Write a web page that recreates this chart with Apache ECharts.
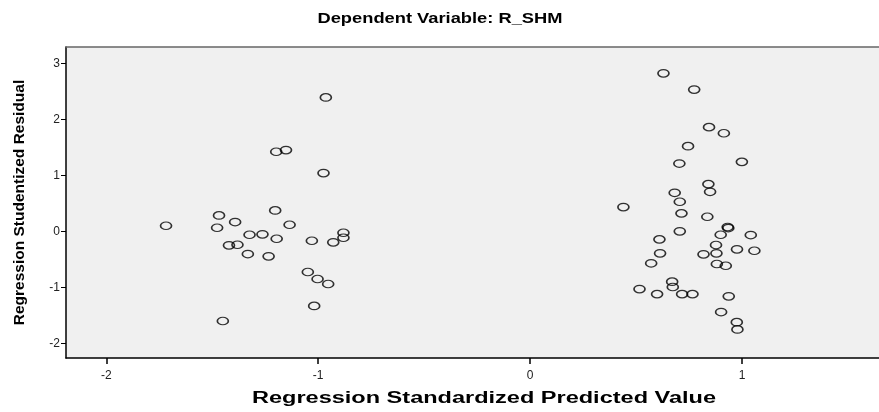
<!DOCTYPE html>
<html>
<head>
<meta charset="utf-8">
<script src="https://cdn.jsdelivr.net/npm/echarts@6/dist/echarts.min.js"></script>
<style>
html,body{margin:0;padding:0;background:#fff;overflow:hidden;}
#chart{width:879px;height:412px;}
</style>
</head>
<body>
<div id="chart"></div>
<script>
// Regression Standardized Predicted Value (x) and Regression Studentized Residual (y)
const predicted = [
  -0.964, -1.198, -1.152, -0.975, -1.203, -1.718, -1.468, -1.477, -1.392, -1.135,
  -1.324, -1.263, -1.196, -1.421, -1.381, -1.332, -1.234, -1.030, -0.929, -0.881,
  -0.881, -1.049, -1.003, -0.953, -1.019, -1.450,
  0.629, 0.774, 0.844, 0.914, 0.745, 0.999, 0.704, 0.841, 0.849, 0.682,
  0.706, 0.440, 0.714, 0.836, 0.932, 0.935, 0.706, 0.899, 1.041, 0.610,
  0.877, 0.976, 1.058, 0.613, 0.879, 0.818, 0.571, 0.881, 0.923, 0.670,
  0.673, 0.516, 0.599, 0.717, 0.766, 0.937, 0.901, 0.975, 0.978
];
const residual = [
  2.39, 1.42, 1.45, 1.04, 0.374, 0.10, 0.285, 0.064, 0.166, 0.118,
  -0.061, -0.053, -0.132, -0.250, -0.239, -0.405, -0.446, -0.168, -0.196, -0.025,
  -0.114, -0.725, -0.850, -0.939, -1.33, -1.60,
  2.82, 2.53, 1.86, 1.75, 1.52, 1.24, 1.21, 0.843, 0.706, 0.688,
  0.528, 0.433, 0.321, 0.260, 0.077, 0.059, 0.0, -0.061, -0.066, -0.143,
  -0.244, -0.321, -0.346, -0.392, -0.392, -0.41, -0.570, -0.583, -0.613, -0.898,
  -0.993, -1.03, -1.12, -1.12, -1.12, -1.16, -1.44, -1.62, -1.75
];
const xTicks = [-2, -1, 0, 1];
const yTicks = [-2, -1, 0, 1, 2, 3];
const titleText = 'Dependent Variable: R_SHM';
const xName = 'Regression Standardized Predicted Value';
const yName = 'Regression Studentized Residual';

const points = predicted.map((v, i) => [v, residual[i]]);

const chart = echarts.init(document.getElementById('chart'), null, {renderer: 'canvas'});
const font = 'Liberation Sans, Arial, sans-serif';
chart.setOption({
  animation: false,
  backgroundColor: '#ffffff',
  graphic: [
    {
      type: 'text', x: 440, y: 19, scaleX: 1.22, z: 10,
      style: {text: titleText, fill: '#000', font: 'bold 15px Liberation Sans, Arial, sans-serif',
              textAlign: 'center', textVerticalAlign: 'middle'}
    },
    {
      type: 'text', x: 484, y: 399, scaleX: 1.47, z: 10,
      style: {text: xName, fill: '#000', font: 'bold 16px Liberation Sans, Arial, sans-serif',
              textAlign: 'center', textVerticalAlign: 'middle'}
    }
  ],
  grid: {
    left: 66, top: 47, right: 0, bottom: 54,
    show: true,
    backgroundColor: '#F0F0F0',
    borderWidth: 0,
    containLabel: false
  },
  xAxis: [{
    type: 'value',
    min: -2.19, max: 1.646,
    axisLine: {show: true, onZero: false, lineStyle: {color: '#000', width: 1.5}},
    axisTick: {show: true, length: 6, customValues: xTicks, lineStyle: {color: '#000', width: 1.5}},
    axisLabel: {customValues: xTicks, fontFamily: font, fontSize: 12, color: '#222', margin: 12},
    splitLine: {show: false}
  }, {
    type: 'value',
    position: 'top',
    min: -2.19, max: 1.646,
    axisLine: {show: true, onZero: false, lineStyle: {color: '#666', width: 1.5}},
    axisTick: {show: false},
    axisLabel: {show: false},
    splitLine: {show: false}
  }],
  yAxis: {
    type: 'value',
    min: -2.26, max: 3.29,
    name: yName,
    nameLocation: 'middle',
    nameGap: 38,
    nameTextStyle: {fontFamily: font, fontSize: 15.5, fontWeight: 'bold', color: '#000'},
    axisLine: {show: true, onZero: false, lineStyle: {color: '#000', width: 1.5}},
    axisTick: {show: true, length: 5, customValues: yTicks, lineStyle: {color: '#000', width: 1}},
    axisLabel: {customValues: yTicks, fontFamily: font, fontSize: 12, color: '#222', margin: 6},
    splitLine: {show: false}
  },
  series: [{
    type: 'scatter',
    data: points,
    symbol: 'circle',
    symbolSize: [11, 7.5],
    itemStyle: {color: 'rgba(0,0,0,0)', borderColor: '#000', borderWidth: 1.4},
    emphasis: {disabled: true}
  }]
});
</script>
</body>
</html>
